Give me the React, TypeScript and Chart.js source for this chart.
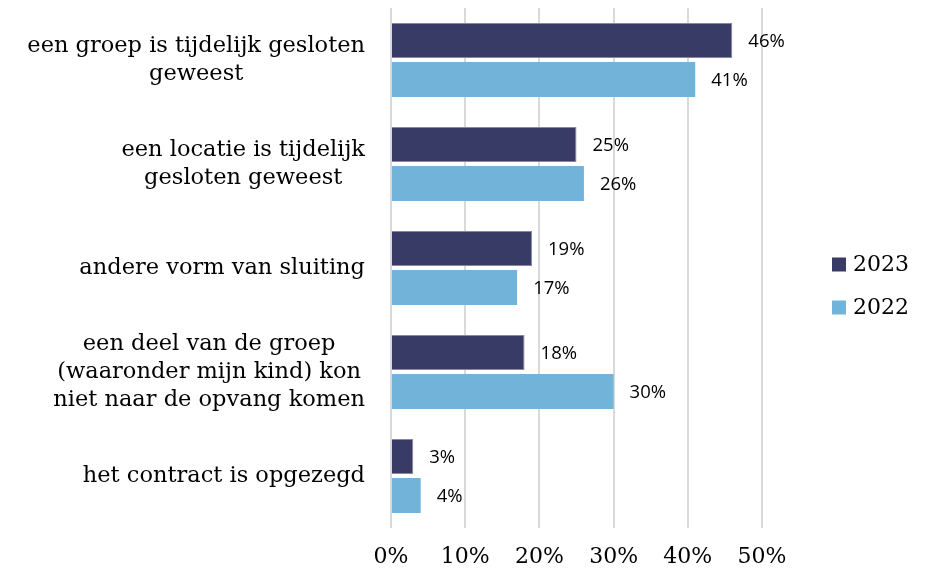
import { useEffect, useRef } from "react";
import { Chart, registerables } from "chart.js";

Chart.register(...registerables);

const categories: string[][] = [
  ["een groep is tijdelijk gesloten", "geweest"],
  ["een locatie is tijdelijk", "gesloten geweest"],
  ["andere vorm van sluiting"],
  ["een deel van de groep", "(waaronder mijn kind) kon", "niet naar de opvang komen"],
  ["het contract is opgezegd"],
];
const seriesNames = ["2023", "2022"];
const values2023 = [46, 25, 19, 18, 3];
const values2022 = [41, 26, 17, 30, 4];
const xTickValues = [0, 10, 20, 30, 40, 50];
const colors = ["#393B67", "#72B3DA"];

const SERIF = "'DejaVu Serif', serif";
const SANS = "'Open Sans', sans-serif";

const customPlugin = {
  id: "custom",
  afterDraw(chart: any) {
    const ctx = chart.ctx;
    const area = chart.chartArea;
    const yScale = chart.scales.y;
    ctx.save();
    // category labels: block right-aligned, lines centred
    ctx.font = `22.5px ${SERIF}`;
    ctx.fillStyle = "#000";
    ctx.textAlign = "center";
    ctx.textBaseline = "middle";
    const lh = 28;
    categories.forEach((lines, i) => {
      const y = yScale.getPixelForValue(i);
      const w = Math.max(...lines.map((l) => ctx.measureText(l).width));
      const cx = area.left - 26 - w / 2;
      lines.forEach((l, j) => {
        ctx.fillText(l, cx, y + (j - (lines.length - 1) / 2) * lh);
      });
    });
    // value labels
    ctx.font = `18.5px ${SANS}`;
    ctx.textAlign = "left";
    chart.data.datasets.forEach((ds: any, di: number) => {
      const meta = chart.getDatasetMeta(di);
      meta.data.forEach((el: any, i: number) => {
        ctx.fillText(ds.data[i] + "%", el.x + 16, el.y + 1);
      });
    });
    // legend
    ctx.font = `22px ${SERIF}`;
    const lx = area.right + 70;
    const midY = chart.height / 2;
    seriesNames.forEach((name, i) => {
      const cy = midY + (i - 0.5) * 43;
      ctx.fillStyle = colors[i];
      ctx.fillRect(lx, cy - 7, 14, 14);
      ctx.fillStyle = "#000";
      ctx.fillText(name, lx + 21, cy + 1);
    });
    ctx.restore();
  },
};

export default function App() {
  const ref = useRef<HTMLCanvasElement | null>(null);
  useEffect(() => {
    if (!ref.current) return;
    const chart = new Chart(ref.current, {
      type: "bar",
      data: {
        labels: categories.map((c) => c.join(" ")),
        datasets: [
          {
            label: seriesNames[0],
            data: values2023,
            backgroundColor: colors[0],
            borderColor: "#8587A8",
            borderWidth: 1,
            categoryPercentage: 0.75,
            barPercentage: 0.897,
          },
          {
            label: seriesNames[1],
            data: values2022,
            backgroundColor: colors[1],
            borderWidth: 0,
            categoryPercentage: 0.75,
            barPercentage: 0.897,
          },
        ],
      },
      options: {
        indexAxis: "y",
        animation: false,
        responsive: true,
        maintainAspectRatio: false,
        layout: { padding: { left: 0, right: 162, top: 0, bottom: 0 } },
        plugins: { legend: { display: false }, tooltip: { enabled: false } },
        scales: {
          x: {
            min: xTickValues[0],
            max: xTickValues[xTickValues.length - 1],
            afterBuildTicks: (s: any) => {
              s.ticks = xTickValues.map((v) => ({ value: v }));
            },
            afterFit: (s: any) => {
              s.height = 36;
            },
            ticks: {
              callback: (v: any) => v + "%",
              font: { family: SERIF, size: 22 },
              color: "#000",
              padding: 16,
              maxRotation: 0,
            },
            grid: { color: "#D9D9D9", lineWidth: 2, drawTicks: false },
            border: { display: false },
          },
          y: {
            ticks: { display: false },
            grid: { display: false },
            border: { display: false },
            afterFit: (s: any) => {
              s.width = 383;
            },
          },
        },
      },
      plugins: [customPlugin],
    });
    return () => chart.destroy();
  }, []);
  return (
    <div style={{ width: 916, height: 556, position: "relative" }}>
      <canvas ref={ref} />
    </div>
  );
}
